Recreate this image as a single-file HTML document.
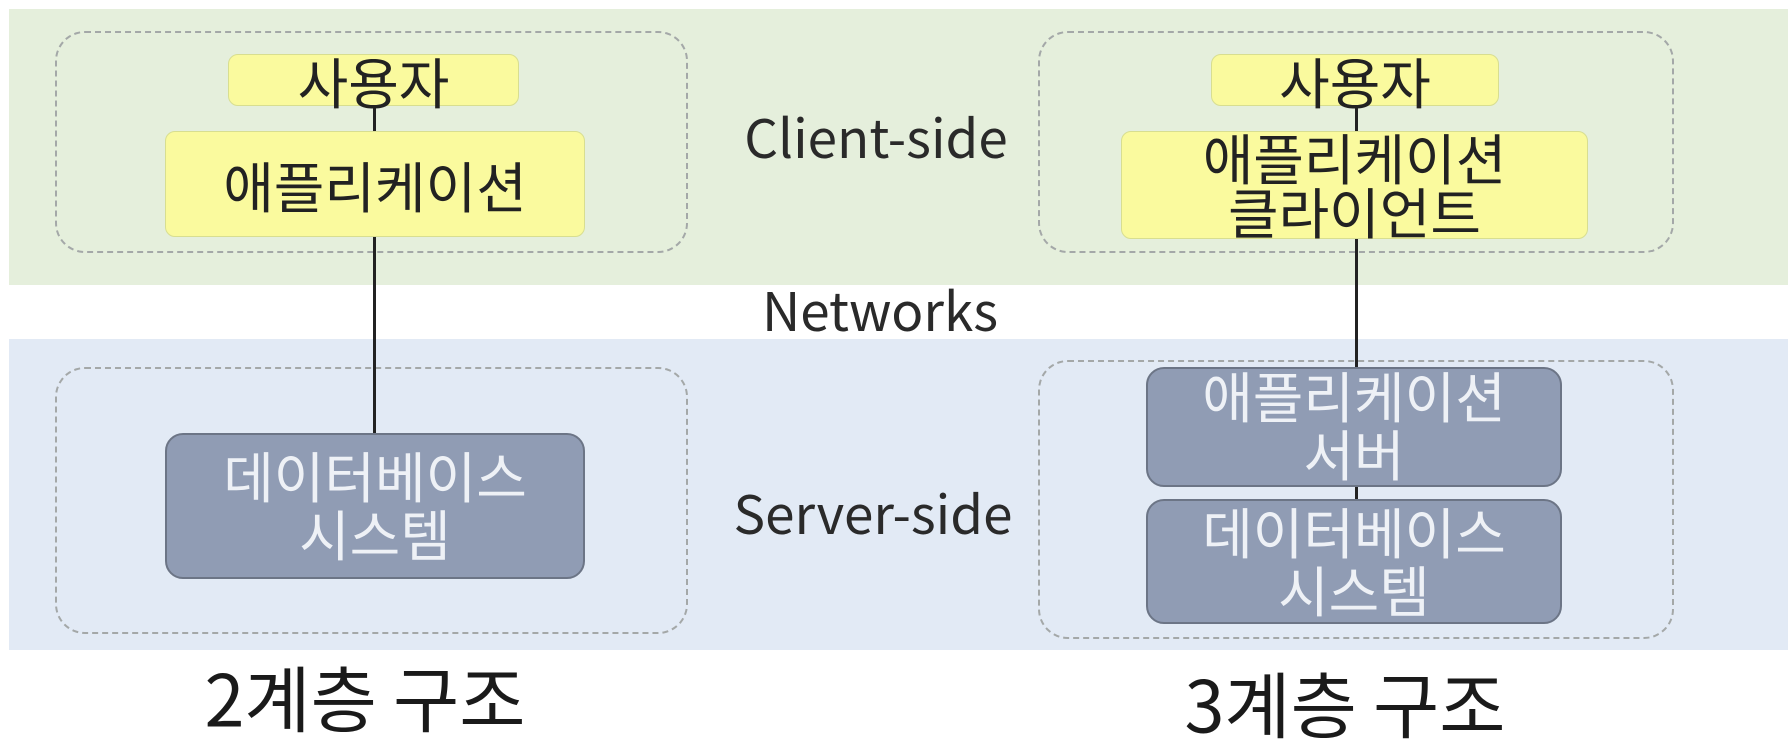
<!DOCTYPE html>
<html><head><meta charset="utf-8"><style>
body{margin:0;width:1788px;height:742px;background:#fff;position:relative;overflow:hidden;font-family:"Liberation Sans","Noto Sans CJK KR",sans-serif}
div{position:absolute;box-sizing:border-box}
.band{left:9px;right:0}
.dash{border:2px dashed #a4a8a8;border-radius:30px}
.box{display:flex;align-items:center;justify-content:center;text-align:center;font-family:"Noto Sans CJK KR",sans-serif}
.y{background:#fafa9e;border:1.5px solid #d8de90;border-radius:10px;color:#222;font-size:55px;line-height:54px}
.g{background:#909cb4;border:2px solid #6c7586;border-radius:18px;color:#eef1f6;font-size:55px;line-height:58px}
.line{width:2.5px;background:#222}
.lbl{font-family:"Noto Sans CJK KR",sans-serif;color:#2a2a2a;font-size:53px;transform:translate(-50%,-50%);white-space:nowrap}
.t{font-family:"Noto Sans CJK KR",sans-serif;color:#1a1a1a;font-size:72px;transform:translate(-50%,-50%);white-space:nowrap}
</style></head><body>
<div class="band" style="top:9px;height:276px;background:#e5efdc"></div>
<div class="band" style="top:339px;height:311px;background:#e2eaf5"></div>

<div class="dash" style="left:55px;top:31px;width:633px;height:222px"></div>
<div class="dash" style="left:55px;top:367px;width:633px;height:267px"></div>
<div class="dash" style="left:1038px;top:31px;width:636px;height:222px"></div>
<div class="dash" style="left:1038px;top:360px;width:636px;height:279px"></div>

<div class="line" style="left:373px;top:100px;height:335px"></div>
<div class="line" style="left:1355px;top:100px;height:400px"></div>

<div class="box y" style="left:228px;top:54px;width:291px;height:52px">사용자</div>
<div class="box y" style="left:165px;top:131px;width:420px;height:106px">애플리케이션</div>
<div class="box g" style="left:165px;top:433px;width:420px;height:146px;padding-bottom:6px">데이터베이스<br>시스템</div>

<div class="box y" style="left:1211px;top:54px;width:288px;height:52px">사용자</div>
<div class="box y" style="left:1121px;top:131px;width:467px;height:108px;padding-bottom:4px">애플리케이션<br>클라이언트</div>
<div class="box g" style="left:1146px;top:367px;width:416px;height:120px;padding-bottom:8px">애플리케이션<br>서버</div>
<div class="box g" style="left:1146px;top:499px;width:416px;height:125px;padding-bottom:6px">데이터베이스<br>시스템</div>

<div class="lbl" style="left:876px;top:136px">Client-side</div>
<div class="lbl" style="left:880px;top:309px">Networks</div>
<div class="lbl" style="left:873px;top:512px">Server-side</div>
<div class="t" style="left:365px;top:695px">2계층 구조</div>
<div class="t" style="left:1345px;top:701px">3계층 구조</div>
</body></html>
